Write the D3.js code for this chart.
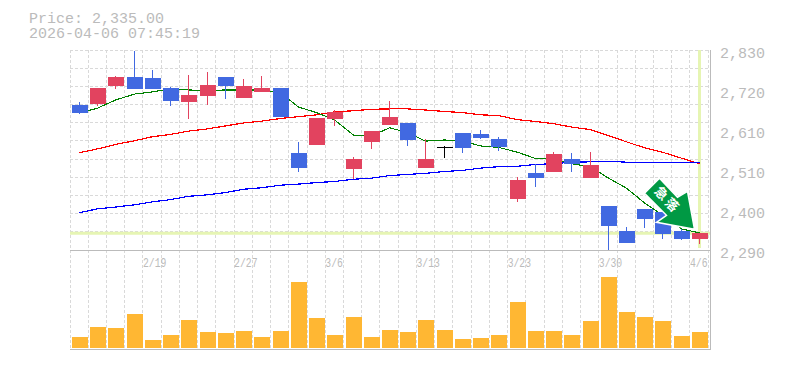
<!DOCTYPE html>
<html>
<head>
<meta charset="utf-8">
<script src="https://cdn.jsdelivr.net/npm/d3@7"></script>
<style>
  html, body { margin: 0; background: #fff; }
  svg { display: block; }
  text { font-family: "Liberation Mono", monospace; fill: #bbb; }
</style>
</head>
<body>
<div class="chart"></div>
<script>
const dates = ['2/13','2/16','2/17','2/18','2/19','2/20','2/24','2/25','2/26','2/27',
  '3/2','3/3','3/4','3/5','3/6','3/9','3/10','3/11','3/12','3/13',
  '3/16','3/17','3/18','3/19','3/23','3/24','3/25','3/26','3/27','3/30',
  '3/31','4/1','4/2','4/3','4/6'];
const open = [2682,2684,2733,2757,2754,2727,2690,2706,2757,2700,2717,2727,2552,2574,2644,2509,2582,2628,2633,2511,2568,2606,2603,2590,2428,2498,2501,2536,2484,2409,2341,2401,2393,2341,2320];
const close = [2660,2727,2757,2725,2725,2692,2708,2735,2733,2733,2727,2649,2511,2646,2663,2536,2611,2649,2587,2536,2568,2565,2592,2568,2479,2484,2549,2522,2520,2355,2309,2374,2333,2320,2335];
const high = [2690,2727,2760,2828,2776,2730,2762,2771,2757,2752,2760,2727,2582,2646,2668,2541,2611,2692,2633,2590,2571,2606,2614,2595,2487,2522,2555,2552,2555,2409,2352,2401,2393,2347,2335];
const low = [2658,2679,2725,2725,2725,2679,2644,2682,2698,2700,2717,2649,2501,2574,2625,2482,2563,2628,2571,2511,2538,2552,2590,2557,2420,2460,2501,2501,2484,2290,2309,2349,2320,2317,2306];
const maShort = [2660,2673,2695,2711,2717,2725,2722,2721,2722,2722,2722,2714,2676,2661,2641,2600,2598,2620,2607,2584,2587,2584,2571,2567,2554,2537,2537,2523,2515,2484,2457,2417,2385,2347,2336];
const maMid = [2553,2563,2575,2585,2596,2602,2611,2617,2625,2633,2638,2645,2650,2655,2663,2666,2670,2671,2671,2668,2664,2661,2655,2653,2642,2637,2631,2622,2615,2599,2582,2566,2554,2538,2523];
const maLong = [2391,2401,2406,2412,2420,2426,2435,2439,2445,2454,2458,2465,2468,2472,2475,2481,2484,2491,2494,2497,2502,2505,2511,2515,2516,2521,2523,2527,2528,2530,2527,2527,2527,2527,2527];
const volume = [11,21,20,34,8,13,28,16,15,17,11,17,66,30,13,31,11,18,16,28,18,9,10,13,46,17,17,13,27,71,36,31,27,12,16];

const priceTicks = ['2,830','2,720','2,610','2,510','2,400','2,290'];
const dateTicks = ['2/19','2/27','3/6','3/13','3/23','3/30','4/6'];
const lastPrice = 2335;

const upColor = '#e2435f', downColor = '#4169e1', volColor = '#ffb733',
      markColor = '#e6f5b3', gridColor = '#d9d9d9', frameColor = '#bbb', arrowColor = '#009944';

const chartLeft = 70, chartRight = 710, priceTop = 50, priceBottom = 250, volBottom = 348, frameBottom = 349.5;

let svg = d3.select('.chart').append('svg')
    .attr('width', 785)
    .attr('height', 370);

let x = d3.scaleBand()
    .domain(dates)
    .range([chartLeft, 708.2]);

let y = d3.scaleLinear()
    .domain([2290, 2830])
    .range([priceBottom, priceTop]);

let yVol = d3.scaleLinear()
    .domain([0, 100])
    .range([volBottom, volBottom - 100]);

// the printed labels are rounded, they sit evenly on the axis
let yLabel = d3.scalePoint()
    .domain(priceTicks)
    .range([priceTop + 3, priceBottom + 3]);

const bodyX = d => Math.round(x(d) + 2);
const midX = d => bodyX(d) + 7.5;
const gridX = d => Math.floor(x(d)) + 0.5;
const dash = '3,2';

// grid
let grid = svg.append('g')
    .attr('stroke', gridColor)
    .attr('stroke-dasharray', dash)
    .attr('shape-rendering', 'crispEdges');

grid.selectAll('.vgrid')
    .data(dates)
    .enter().append('line')
    .attr('x1', gridX).attr('x2', gridX)
    .attr('y1', priceTop).attr('y2', frameBottom);

grid.append('line')
    .attr('x1', 708.5).attr('x2', 708.5)
    .attr('y1', priceTop).attr('y2', frameBottom);

grid.selectAll('.hgrid')
    .data(d3.range(12).map(i => 2830 - i * 540 / 11))
    .enter().append('line')
    .attr('x1', chartLeft).attr('x2', chartRight)
    .attr('y1', d => Math.floor(y(d)) + 0.5)
    .attr('y2', d => Math.floor(y(d)) + 0.5);

// frame
let frame = svg.append('g')
    .attr('stroke', frameColor)
    .attr('shape-rendering', 'crispEdges');
frame.append('line').attr('x1', chartLeft).attr('x2', chartRight + 1).attr('y1', priceBottom + 0.5).attr('y2', priceBottom + 0.5);
frame.append('line').attr('x1', chartLeft).attr('x2', chartRight + 1).attr('y1', frameBottom).attr('y2', frameBottom);
frame.append('line').attr('x1', chartRight + 0.5).attr('x2', chartRight + 0.5).attr('y1', priceTop).attr('y2', frameBottom);

// last price cross
svg.append('line')
    .attr('x1', chartLeft).attr('x2', chartRight)
    .attr('y1', y(lastPrice)).attr('y2', y(lastPrice))
    .attr('stroke', markColor).attr('stroke-width', 3);
svg.append('line')
    .attr('x1', midX('4/6')).attr('x2', midX('4/6'))
    .attr('y1', priceTop).attr('y2', priceBottom - 2)
    .attr('stroke', markColor).attr('stroke-width', 3);

// x labels
let xAxis = d3.axisBottom(x).tickValues(dateTicks).tickSize(0).tickPadding(0);
let xAxisG = svg.append('g')
    .attr('transform', `translate(0,${priceBottom})`)
    .call(xAxis);
xAxisG.select('.domain').remove();
xAxisG.selectAll('text')
    .attr('text-anchor', 'start')
    .attr('x', -x.bandwidth() / 2)
    .attr('y', 17)
    .attr('dy', 0)
    .attr('textLength', d => d.length * 5.85)
    .attr('lengthAdjust', 'spacingAndGlyphs')
    .style('font-family', '"Liberation Mono", monospace')
    .style('font-size', '13px')
    .style('fill', '#bbb');

// y labels
let yAxis = d3.axisRight(yLabel).tickSize(0).tickPadding(0);
let yAxisG = svg.append('g')
    .attr('transform', 'translate(720,0)')
    .call(yAxis);
yAxisG.select('.domain').remove();
yAxisG.selectAll('text')
    .attr('dy', 4.5)
    .style('font-family', '"Liberation Mono", monospace')
    .style('font-size', '15px')
    .style('fill', '#bbb');

// volume
svg.selectAll('.vol')
    .data(dates)
    .enter().append('rect')
    .attr('class', 'vol')
    .attr('x', bodyX)
    .attr('width', 16)
    .attr('y', (d, i) => yVol(volume[i]))
    .attr('height', (d, i) => volBottom - yVol(volume[i]))
    .attr('fill', volColor);

// moving averages
let line = series => d3.line().x(midX).y((d, i) => y(series[i]))(dates);
[[maMid, 'red', 1.2], [maLong, 'blue', 1.2], [maShort, 'green', 1.1]].forEach(s => {
    svg.append('path')
        .attr('d', line(s[0]))
        .attr('fill', 'none')
        .attr('stroke', s[1])
        .attr('stroke-width', s[2])
        .attr('shape-rendering', 'crispEdges');
});

// candles
const candleColor = i => close[i] > open[i] ? upColor : close[i] < open[i] ? downColor : '#000';

let candles = svg.selectAll('.candle')
    .data(dates)
    .enter().append('g')
    .attr('class', 'candle')
    .attr('shape-rendering', 'crispEdges');

candles.append('line')
    .attr('x1', midX).attr('x2', midX)
    .attr('y1', (d, i) => y(high[i]))
    .attr('y2', (d, i) => y(low[i]))
    .attr('stroke', (d, i) => candleColor(i));

candles.append('rect')
    .attr('x', bodyX)
    .attr('width', 16)
    .attr('y', (d, i) => y(Math.max(open[i], close[i])))
    .attr('height', (d, i) => Math.max(1, Math.abs(y(open[i]) - y(close[i]))))
    .attr('fill', (d, i) => candleColor(i));

// signal arrow, hung from the last candle
const tipX = midX('4/6') - 5, tipY = y(lastPrice) - 4;
const arrowShape = [[-35,-51],[-50,-36],[-28,-14],[-38,-7],[0,0],[-7,-38],[-17,-32]];

let arrow = svg.append('g')
    .attr('transform', `translate(${tipX},${tipY})`);
arrow.append('polygon')
    .attr('points', arrowShape.map(p => p.join(',')).join(' '))
    .attr('fill', arrowColor)
    .attr('stroke', '#fff')
    .attr('stroke-width', 1.5);
['急', '落'].forEach((c, i) => {
    arrow.append('text')
        .attr('transform', `translate(${-33 + i * 10.5},${-36 + i * 11.5}) rotate(45)`)
        .attr('text-anchor', 'middle')
        .attr('dy', '0.36em')
        .style('font-family', '"Noto Sans CJK JP"')
        .style('font-weight', 700)
        .style('font-size', '13px')
        .style('fill', '#fff')
        .text(c);
});

// header
svg.append('text').attr('x', 29).attr('y', 23).style('font-size', '15px').text('Price: 2,335.00');
svg.append('text').attr('x', 29).attr('y', 38).style('font-size', '15px').text('2026-04-06 07:45:19');
</script>
</body>
</html>
